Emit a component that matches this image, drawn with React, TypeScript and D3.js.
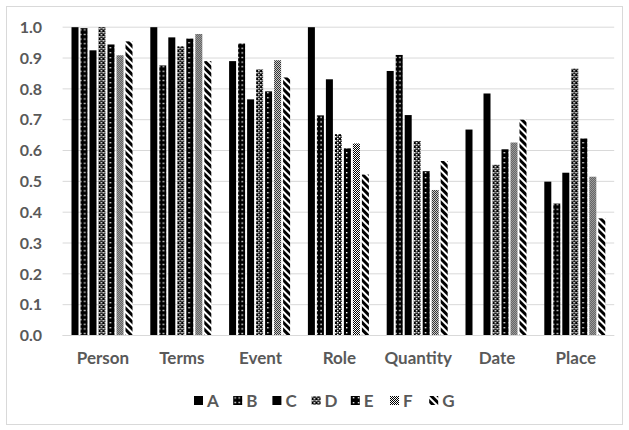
import React from "react";
import * as d3 from "d3";

const categories = ["Person", "Terms", "Event", "Role", "Quantity", "Date", "Place"];
const seriesNames = ["A", "B", "C", "D", "E", "F", "G"];
const valuesA = [1.0, 1.0, 0.89, 1.0, 0.858, 0.668, 0.499];
const valuesB = [0.997, 0.876, 0.947, 0.714, 0.91, 0, 0.428];
const valuesC = [0.925, 0.967, 0.766, 0.831, 0.715, 0.785, 0.528];
const valuesD = [1.0, 0.938, 0.863, 0.653, 0.631, 0.554, 0.866];
const valuesE = [0.944, 0.963, 0.792, 0.607, 0.533, 0.604, 0.639];
const valuesF = [0.909, 0.978, 0.893, 0.623, 0.472, 0.626, 0.515];
const valuesG = [0.954, 0.89, 0.837, 0.522, 0.566, 0.7, 0.38];
const yTicks = [0, 0.1, 0.2, 0.3, 0.4, 0.5, 0.6, 0.7, 0.8, 0.9, 1.0];

const allValues = [valuesA, valuesB, valuesC, valuesD, valuesE, valuesF, valuesG];
const fills = ["#000", "url(#pB)", "#000", "url(#pD)", "url(#pE)", "url(#pF)", "url(#pG)"];

const W = 629;
const H = 430;
const plotLeft = 62.6;
const plotRight = 614.2;
const yTop = 27.2;
const yBottom = 335.5;
const textColor = "#595959";
const font = "Lato, 'Open Sans', sans-serif";

export default function App() {
  const x0 = d3.scaleBand<string>().domain(categories).range([plotLeft, plotRight]).padding(0);
  const x1 = d3
    .scaleBand<string>()
    .domain(seriesNames)
    .range([8.9, 69.9])
    .paddingInner(2 / 9)
    .paddingOuter(0);
  const y = d3.scaleLinear().domain([0, 1]).range([yBottom, yTop]);

  const legendStep = 39.2;
  const legendStart = 194;

  return (
    <svg
      width={W}
      height={H}
      style={{ position: "absolute", left: 0, top: 0 }}
      xmlns="http://www.w3.org/2000/svg"
    >
      <defs>
        <pattern id="pB" patternUnits="userSpaceOnUse" width="4" height="4.6">
          <rect width="4" height="4.6" fill="#000" />
          <rect x="1.4" y="1.6" width="1.4" height="1.4" fill="#fff" />
        </pattern>
        <pattern id="pD" patternUnits="userSpaceOnUse" width="4" height="4">
          <rect width="4" height="4" fill="#000" />
          <rect x="0" y="0" width="1.5" height="1.5" fill="#fff" />
          <rect x="2" y="2" width="1.5" height="1.5" fill="#fff" />
          <rect x="2.25" y="0.25" width="1" height="1" fill="#fff" />
        </pattern>
        <pattern id="pE" patternUnits="userSpaceOnUse" width="5" height="5">
          <rect width="5" height="5" fill="#000" />
          <rect x="2" y="2" width="1.4" height="1.4" fill="#fff" />
        </pattern>
        <pattern id="pF" patternUnits="userSpaceOnUse" width="2" height="2">
          <rect width="2" height="2" fill="#fff" />
          <rect x="0" y="0" width="1" height="1" fill="#000" />
          <rect x="1" y="1" width="1" height="1" fill="#000" />
        </pattern>
        <pattern
          id="pG"
          patternUnits="userSpaceOnUse"
          width="5"
          height="5"
          patternTransform="rotate(-45)"
        >
          <rect width="5" height="5" fill="#fff" />
          <rect x="0" y="0" width="3" height="5" fill="#000" />
        </pattern>
      </defs>

      <rect x={6.5} y={6.5} width={616} height={418} fill="#fff" stroke="#d9d9d9" strokeWidth={1} />

      {yTicks.map((t) => (
        <g key={t}>
          <line
            x1={plotLeft}
            x2={plotRight}
            y1={y(t)}
            y2={y(t)}
            stroke="#d9d9d9"
            strokeWidth={1}
          />
          <text
            x={42}
            y={y(t)}
            dy="0.36em"
            textAnchor="end"
            fontFamily={font}
            fontWeight="bold"
            fontSize={16}
            fill={textColor}
          >
            {t.toFixed(1)}
          </text>
        </g>
      ))}

      {categories.map((c, ci) => (
        <g key={c} transform={`translate(${x0(c)},0)`}>
          {seriesNames.map((s, si) => {
            const v = allValues[si][ci];
            if (!v) return null;
            return (
              <rect
                key={s}
                x={x1(s)}
                y={y(v)}
                width={x1.bandwidth()}
                height={yBottom - y(v)}
                fill={fills[si]}
              />
            );
          })}
          <text
            x={x0.bandwidth() / 2 + 1}
            y={364}
            textAnchor="middle"
            fontFamily={font}
            fontWeight="bold"
            fontSize={17}
            fill={textColor}
          >
            {c}
          </text>
        </g>
      ))}

      <line x1={plotLeft} x2={plotRight} y1={yBottom} y2={yBottom} stroke="#d9d9d9" strokeWidth={1} />

      {seriesNames.map((s, si) => (
        <g key={s} transform={`translate(${legendStart + si * legendStep},0)`}>
          <rect x={0} y={396} width={9} height={9} fill={fills[si]} />
          <text
            x={13}
            y={406.5}
            fontFamily={font}
            fontWeight="bold"
            fontSize={17}
            fill={textColor}
          >
            {s}
          </text>
        </g>
      ))}
    </svg>
  );
}
